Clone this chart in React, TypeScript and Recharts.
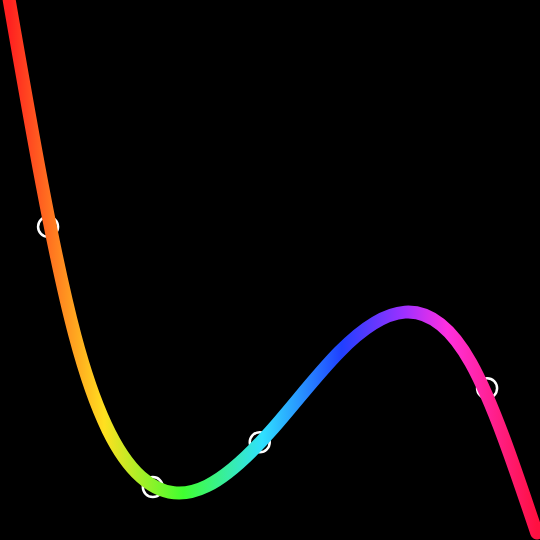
import { ComposedChart, Line, XAxis, YAxis } from 'recharts';

// curve at even steps, chart units (0..10)
const curveX = [0.17, 1.39, 2.61, 3.83, 5.06, 6.28, 7.5, 8.72, 9.94];
const curveY = [10.0, 3.78, 1.17, 1.0, 2.07, 3.48, 4.22, 3.28, 0.13];
// marker rings that sit on the curve
const ringX = [0.89, 2.83, 4.81, 9.02];
const ringY = [5.8, 0.98, 1.81, 2.81];

const curve = curveX.map((x, i) => ({ x, y: curveY[i] }));
const rings = ringX.map((x, i) => ({ x, y: ringY[i] }));

export default function App() {
  return (
    <div style={{ position: 'fixed', top: 0, left: 0, width: 540, height: 540, background: '#000' }}>
      <ComposedChart width={540} height={540} data={curve} margin={{ top: 0, right: 0, bottom: 0, left: 0 }}>
        <defs>
          <linearGradient id="rainbow" x1="0" y1="0" x2="1" y2="0">
            <stop offset="0%" stopColor="#ff2020" />
            <stop offset="18%" stopColor="#ffe020" />
            <stop offset="33%" stopColor="#40ff30" />
            <stop offset="48%" stopColor="#30e0ff" />
            <stop offset="63%" stopColor="#2040ff" />
            <stop offset="75%" stopColor="#a030ff" />
            <stop offset="83%" stopColor="#ff30e0" />
            <stop offset="100%" stopColor="#ff1040" />
          </linearGradient>
        </defs>
        <XAxis dataKey="x" type="number" domain={[0, 10]} hide allowDataOverflow />
        <YAxis type="number" domain={[0, 10]} hide allowDataOverflow />
        <Line
          data={rings}
          dataKey="y"
          stroke="none"
          dot={{ r: 10, fill: '#000', stroke: '#fff', strokeWidth: 2.5 }}
          activeDot={false}
          isAnimationActive={false}
          zIndex={100}
        />
        <Line
          dataKey="y"
          type="natural"
          stroke="url(#rainbow)"
          strokeWidth={13}
          strokeLinecap="round"
          dot={false}
          activeDot={false}
          isAnimationActive={false}
          zIndex={3000}
        />
      </ComposedChart>
    </div>
  );
}
